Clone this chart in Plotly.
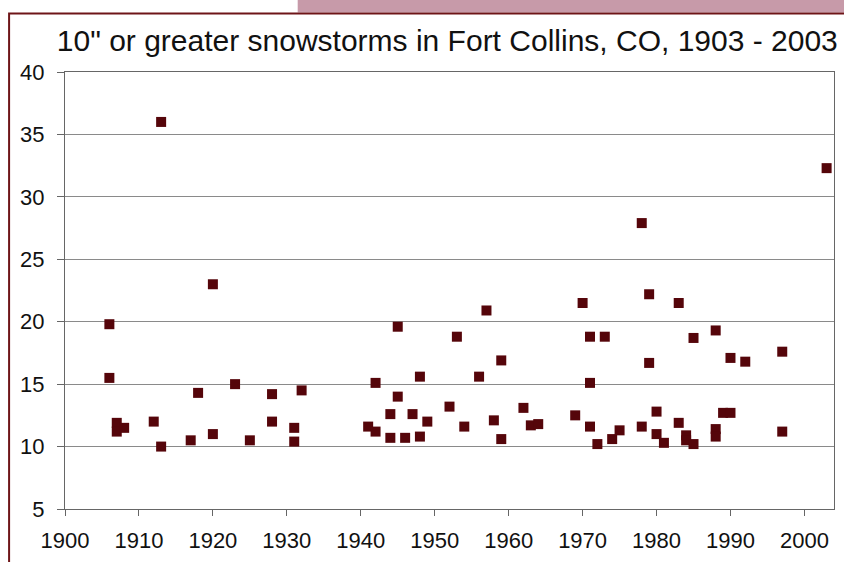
import plotly.graph_objects as go

years = [1906, 1906, 1907, 1907, 1908, 1912, 1913, 1913, 1917, 1918,
         1920, 1920, 1923, 1925, 1928, 1928, 1931, 1931, 1932, 1941,
         1942, 1942, 1944, 1944, 1945, 1945, 1946, 1947, 1948, 1948,
         1949, 1952, 1953, 1954, 1956, 1957, 1958, 1959, 1959, 1962,
         1963, 1964, 1969, 1970, 1971, 1971, 1971, 1972, 1973, 1974,
         1975, 1978, 1978, 1979, 1979, 1980, 1980, 1981, 1983, 1983,
         1984, 1984, 1985, 1985, 1988, 1988, 1988, 1989, 1990, 1990,
         1992, 1997, 1997, 2003]
snow_in = [19.8, 15.5, 11.9, 11.2, 11.5, 12.0, 36.0, 10.0, 10.5, 14.3,
           23.0, 11.0, 15.0, 10.5, 14.2, 12.0, 11.5, 10.4, 14.5, 11.6,
           15.1, 11.2, 12.6, 10.7, 19.6, 14.0, 10.7, 12.6, 15.6, 10.8,
           12.0, 13.2, 18.8, 11.6, 15.6, 20.9, 12.1, 16.9, 10.6, 13.1,
           11.7, 11.8, 12.5, 21.5, 18.8, 15.1, 11.6, 10.2, 18.8, 10.6,
           11.3, 27.9, 11.6, 22.2, 16.7, 12.8, 11.0, 10.3, 21.5, 11.9,
           10.9, 10.5, 18.7, 10.2, 19.3, 11.4, 10.8, 12.7, 17.1, 12.7,
           16.8, 17.6, 11.2, 32.3]

x_ticks = [1900, 1910, 1920, 1930, 1940, 1950, 1960, 1970, 1980, 1990, 2000]
y_ticks = [5, 10, 15, 20, 25, 30, 35, 40]
title = '10" or greater snowstorms in Fort Collins, CO, 1903 - 2003'

FONT = "Liberation Sans, Arial, sans-serif"

fig = go.Figure(go.Scatter(
    x=years, y=snow_in, mode="markers",
    marker=dict(symbol="square", size=10, color="#55050a",
                line=dict(width=0)),
    hoverinfo="x+y", showlegend=False))

fig.update_layout(
    width=844, height=562,
    margin=dict(l=65, r=9, t=72, b=50),
    paper_bgcolor="white", plot_bgcolor="white",
    font=dict(family=FONT, color="#111111"),
    title=dict(text=title, x=0.53, xanchor="center", y=0.928, yanchor="middle",
               font=dict(size=30, family=FONT, color="#111111")),
    xaxis=dict(range=[1900, 2004], tickvals=x_ticks, ticktext=[str(t) for t in x_ticks],
               showgrid=False, zeroline=False,
               showline=True, linecolor="#666666", linewidth=1, mirror=True,
               ticks="outside", ticklen=6, tickcolor="#666666",
               ticklabelstandoff=6,
               tickfont=dict(size=22, family=FONT, color="#111111")),
    yaxis=dict(range=[5, 40], tickvals=y_ticks,
               showgrid=True, gridcolor="#8a8a8a", gridwidth=1, zeroline=False,
               showline=True, linecolor="#666666", linewidth=1, mirror=True,
               ticks="outside", ticklen=7, tickcolor="#666666",
               ticklabelstandoff=8,
               tickfont=dict(size=22, family=FONT, color="#111111")),
    shapes=[
        dict(type="rect", xref="paper", yref="paper",
             x0=0.3026, x1=1.02, y0=1.1364, y1=1.17,
             fillcolor="#c79aa9", line=dict(width=0), layer="below"),
        dict(type="rect", xref="paper", yref="paper",
             x0=-0.0727, x1=1.03, y0=-0.2, y1=1.134,
             fillcolor="rgba(0,0,0,0)", line=dict(color="#6e1518", width=2),
             layer="above"),
    ],
)

fig.write_html("out.html", config={"displayModeBar": False},
               post_script="document.body.style.margin='0';")
